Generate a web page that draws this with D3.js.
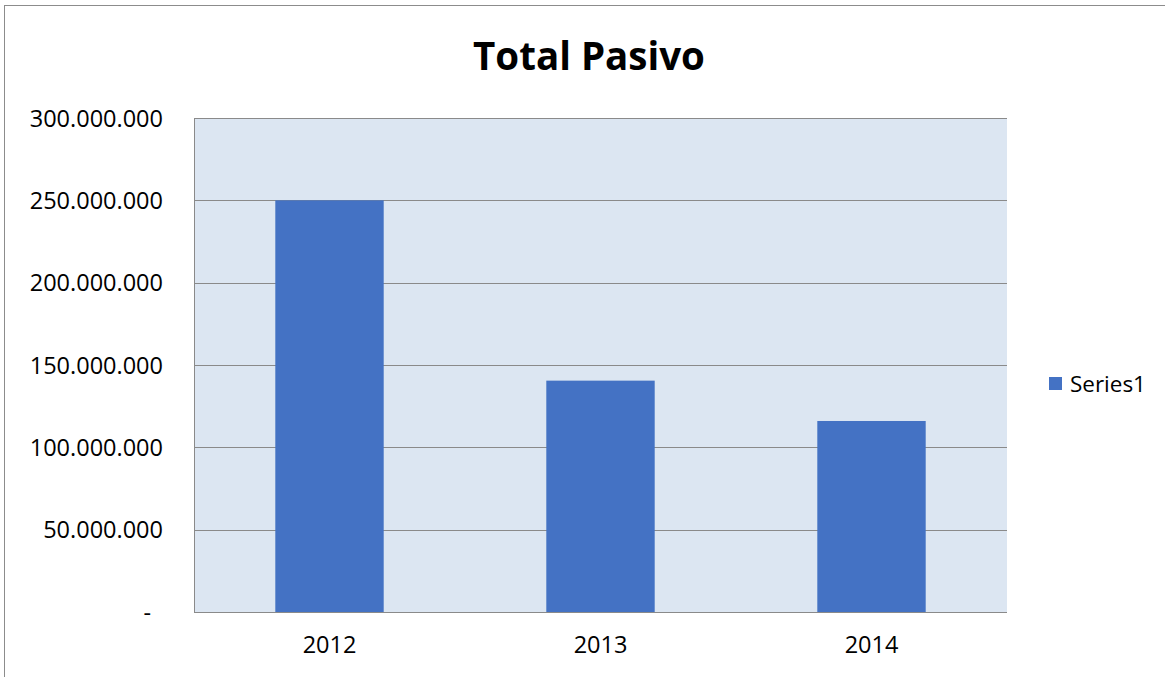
<!DOCTYPE html>
<html>
<head>
<meta charset="utf-8">
<script src="https://cdn.jsdelivr.net/npm/d3@7"></script>
<style>
  html, body { margin: 0; padding: 0; background: #fff; }
  svg { display: block; }
  text { font-family: "Open Sans", sans-serif; fill: #000; }
</style>
</head>
<body>
<svg id="chart" width="1165" height="677"></svg>
<script>
const title = "Total Pasivo";
const seriesName = "Series1";
const categories = ["2012", "2013", "2014"];
const values = [250000000, 140500000, 116000000];
const yTicks = [0, 50000000, 100000000, 150000000, 200000000, 250000000, 300000000];
const yTickLabels = ["-", "50.000.000", "100.000.000", "150.000.000", "200.000.000", "250.000.000", "300.000.000"];

const svg = d3.select("#chart");
const W = 1165, H = 677;
const plot = { left: 194, right: 1007, top: 118, bottom: 612 };

// outer chart border
svg.append("rect")
  .attr("x", 4.5).attr("y", 5.5)
  .attr("width", W + 20).attr("height", H + 20)
  .attr("fill", "#fff").attr("stroke", "#8c8c8c").attr("stroke-width", 1);

const x = d3.scaleBand()
  .domain(categories)
  .range([plot.left, plot.right])
  .paddingInner(0.6)
  .paddingOuter(0.3);

const y = d3.scaleLinear()
  .domain([0, 300000000])
  .range([plot.bottom, plot.top]);

// plot background
svg.append("rect")
  .attr("x", plot.left).attr("y", plot.top)
  .attr("width", plot.right - plot.left).attr("height", plot.bottom - plot.top)
  .attr("fill", "#dce6f2");

// gridlines
svg.append("g").selectAll("line")
  .data(yTicks.filter(d => d > 0))
  .join("line")
  .attr("x1", plot.left).attr("x2", plot.right)
  .attr("y1", d => Math.round(y(d)) + 0.5).attr("y2", d => Math.round(y(d)) + 0.5)
  .attr("stroke", "#8a8a8a").attr("stroke-width", 1);

// bars
svg.append("g").selectAll("rect")
  .data(categories.map((c, i) => ({ c, v: values[i] })))
  .join("rect")
  .attr("x", d => x(d.c))
  .attr("width", x.bandwidth())
  .attr("y", d => y(d.v))
  .attr("height", d => y(0) - y(d.v))
  .attr("fill", "#4472c4");

// axes lines
svg.append("line")
  .attr("x1", plot.left + 0.5).attr("x2", plot.left + 0.5)
  .attr("y1", plot.top).attr("y2", plot.bottom)
  .attr("stroke", "#8a8a8a");
svg.append("line")
  .attr("x1", plot.left).attr("x2", plot.right)
  .attr("y1", plot.bottom + 0.5).attr("y2", plot.bottom + 0.5)
  .attr("stroke", "#8a8a8a");

// y axis labels via d3 axis
const yAxis = d3.axisLeft(y)
  .tickValues(yTicks)
  .tickFormat((d, i) => yTickLabels[i])
  .tickSize(0)
  .tickPadding(31);
const gy = svg.append("g")
  .attr("transform", `translate(${plot.left},0)`)
  .call(yAxis);
gy.select(".domain").remove();
gy.selectAll("text")
  .style("font-family", '"Open Sans", sans-serif')
  .style("font-size", "23.5px")
  .attr("fill", "#000")
  .attr("dy", "0.35em")
  .attr("dx", d => d === 0 ? -12 : 0);

// x axis labels
const xAxis = d3.axisBottom(x).tickSize(0).tickPadding(24);
const gx = svg.append("g")
  .attr("transform", `translate(0,${plot.bottom})`)
  .call(xAxis);
gx.select(".domain").remove();
gx.selectAll("text")
  .style("font-family", '"Open Sans", sans-serif')
  .style("font-size", "23.5px")
  .attr("fill", "#000");

// title
const t = svg.append("text")
  .attr("x", 589).attr("y", 70)
  .attr("text-anchor", "middle")
  .style("font-weight", "bold")
  .style("font-size", "40px")
  .text(title);
const tw = t.node().getComputedTextLength();
t.style("font-size", (40 * 232 / tw) + "px");

// legend
svg.append("rect")
  .attr("x", 1049).attr("y", 377)
  .attr("width", 13).attr("height", 13)
  .attr("fill", "#4472c4");
const lt = svg.append("text")
  .attr("x", 1070).attr("y", 392)
  .style("font-size", "22px")
  .text(seriesName);
const lw = lt.node().getComputedTextLength();
lt.style("font-size", (22 * 76 / lw) + "px");
</script>
</body>
</html>
